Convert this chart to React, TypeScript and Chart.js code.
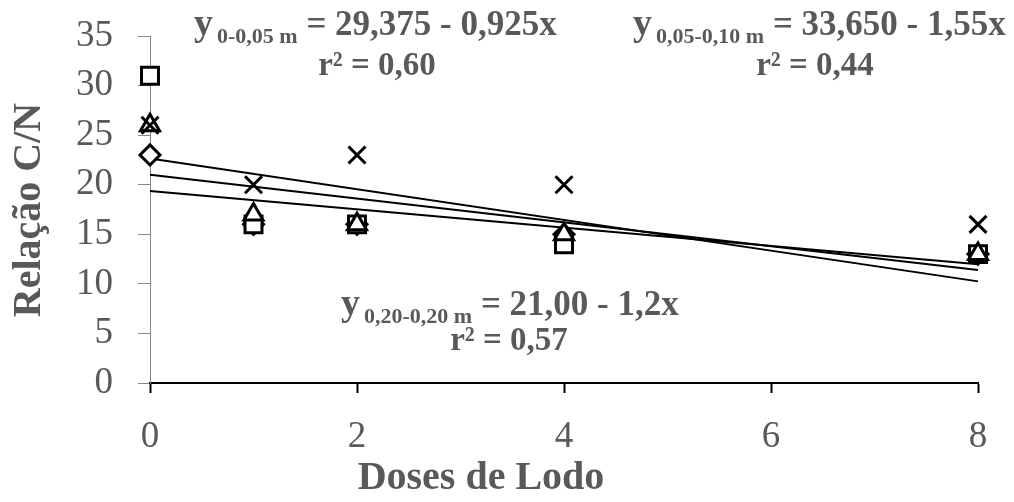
import { useEffect, useRef } from "react";
import { Chart, registerables } from "chart.js";

Chart.register(...registerables);

// Doses de lodo (x) and C/N ratios per layer
const doses = [0, 1, 2, 4, 8];
const squareValues = [31, 16, 16, 14, 13];
const crossValues = [26, 20, 23, 20, 16];
const triangleValues = [26, 17, 16, 15, 13];
const diamondValues = [23, 16, 16, 15, 13];

// Axis ranges and steps
const xRange = [0, 8];
const xStep = 2;
const yRange = [0, 35];
const yStep = 5;

// Axis titles
const yTitle = "Relação C/N";
const xTitle = "Doses de Lodo";

// Regression equation labels
const eqSubscripts = ["0-0,05 m", "0,05-0,10 m", "0,20-0,20 m"];
const eqBodies = ["= 29,375 - 0,925x", "= 33,650 - 1,55x", "= 21,00 - 1,2x"];
const eqR2 = ["r² = 0,60", "r² = 0,44", "r² = 0,57"];

const FONT = "'Liberation Serif', 'Times New Roman', serif";
const TEXT = "#595959";

function linearFit(xs: number[], ys: number[]) {
  const n = xs.length;
  const mx = xs.reduce((a, b) => a + b, 0) / n;
  const my = ys.reduce((a, b) => a + b, 0) / n;
  let sxy = 0;
  let sxx = 0;
  for (let i = 0; i < n; i++) {
    sxy += (xs[i] - mx) * (ys[i] - my);
    sxx += (xs[i] - mx) * (xs[i] - mx);
  }
  const slope = sxy / sxx;
  return { slope, intercept: my - slope * mx };
}

function trendPoints(ys: number[]) {
  const { slope, intercept } = linearFit(doses, ys);
  return xRange.map((x) => ({ x, y: intercept + slope * x }));
}

function toPoints(ys: number[]) {
  return doses.map((x, i) => ({ x, y: ys[i] }));
}

const textPlugin = {
  id: "chartText",
  afterDraw(chart: any) {
    const ctx = chart.ctx as CanvasRenderingContext2D;
    ctx.save();
    ctx.fillStyle = TEXT;
    ctx.textBaseline = "alphabetic";

    // axis titles
    ctx.font = `bold 40px ${FONT}`;
    ctx.textAlign = "center";
    ctx.fillText(xTitle, 481, 489);
    ctx.save();
    ctx.translate(40, 210);
    ctx.rotate(-Math.PI / 2);
    ctx.fillText(yTitle, 0, 0);
    ctx.restore();

    // regression equations
    const spots = [
      { left: 194, base: 35, r2x: 377, r2base: 75 },
      { left: 633, base: 35, r2x: 815, r2base: 75 },
      { left: 341, base: 315, r2x: 509, r2base: 350 },
    ];
    spots.forEach((s, i) => {
      ctx.textAlign = "left";
      ctx.font = `bold 38px ${FONT}`;
      let x = s.left;
      ctx.fillText("y", x, s.base);
      x += ctx.measureText("y").width + 4;
      ctx.font = `bold 22px ${FONT}`;
      ctx.fillText(eqSubscripts[i], x, s.base + 8);
      x += ctx.measureText(eqSubscripts[i]).width;
      ctx.font = `bold 35px ${FONT}`;
      x += ctx.measureText(" ").width;
      ctx.fillText(eqBodies[i], x, s.base);
      ctx.font = `bold 33px ${FONT}`;
      ctx.textAlign = "center";
      ctx.fillText(eqR2[i], s.r2x, s.r2base);
    });
    ctx.restore();
  },
};

export default function App() {
  const canvasRef = useRef<HTMLCanvasElement | null>(null);

  useEffect(() => {
    const canvas = canvasRef.current;
    if (!canvas) return;

    const markerBase = {
      type: "scatter" as const,
      borderColor: "#000000",
      borderWidth: 3,
      backgroundColor: "#ffffff",
      showLine: false,
      clip: false as const,
    };
    const trendBase = {
      type: "line" as const,
      borderColor: "#000000",
      borderWidth: 2,
      pointRadius: 0,
      fill: false,
      tension: 0,
      order: 5,
      clip: false as const,
    };

    const chart = new Chart(canvas, {
      type: "scatter",
      data: {
        datasets: [
          { ...markerBase, data: toPoints(crossValues), pointStyle: "crossRot", pointRadius: 12, order: 1 },
          { ...markerBase, data: toPoints(triangleValues), pointStyle: "triangle", pointRadius: 11, order: 2 },
          { ...markerBase, data: toPoints(squareValues), pointStyle: "rect", pointRadius: 12, order: 3 },
          { ...markerBase, data: toPoints(diamondValues), pointStyle: "rectRot", pointRadius: 10, order: 4 },
          { ...trendBase, data: trendPoints(squareValues) },
          { ...trendBase, data: trendPoints(triangleValues) },
          { ...trendBase, data: trendPoints(diamondValues) },
        ] as any,
      },
      options: {
        responsive: false,
        animation: false,
        devicePixelRatio: 1,
        layout: { padding: { top: 36, right: 36, left: 0, bottom: 0 } },
        plugins: {
          legend: { display: false },
          tooltip: { enabled: false },
        },
        scales: {
          x: {
            type: "linear",
            min: xRange[0],
            max: xRange[1],
            afterFit: (scale: any) => {
              scale.height = 119;
              scale.paddingLeft = 0;
              scale.paddingRight = 0;
            },
            ticks: {
              stepSize: xStep,
              color: TEXT,
              font: { family: FONT, size: 37 },
              padding: 22,
            },
            grid: {
              display: true,
              drawOnChartArea: false,
              drawTicks: true,
              tickLength: 10,
              tickColor: "#000000",
              tickWidth: 2,
            },
            border: { display: true, color: "#000000", width: 2 },
          },
          y: {
            type: "linear",
            min: yRange[0],
            max: yRange[1],
            afterFit: (scale: any) => {
              scale.width = 150;
              scale.paddingTop = 0;
              scale.paddingBottom = 0;
            },
            ticks: {
              stepSize: yStep,
              color: TEXT,
              font: { family: FONT, size: 37 },
              padding: 25,
            },
            grid: {
              display: true,
              drawOnChartArea: false,
              drawTicks: true,
              tickLength: 12,
              tickColor: "#868686",
              tickWidth: 1,
            },
            border: { display: true, color: "#868686", width: 1 },
          },
        },
      },
      plugins: [textPlugin],
    });

    return () => chart.destroy();
  }, []);

  return (
    <div style={{ position: "absolute", left: 0, top: 0, width: 1014, height: 502, background: "#ffffff" }}>
      <canvas ref={canvasRef} width={1014} height={502} style={{ display: "block" }} />
    </div>
  );
}
